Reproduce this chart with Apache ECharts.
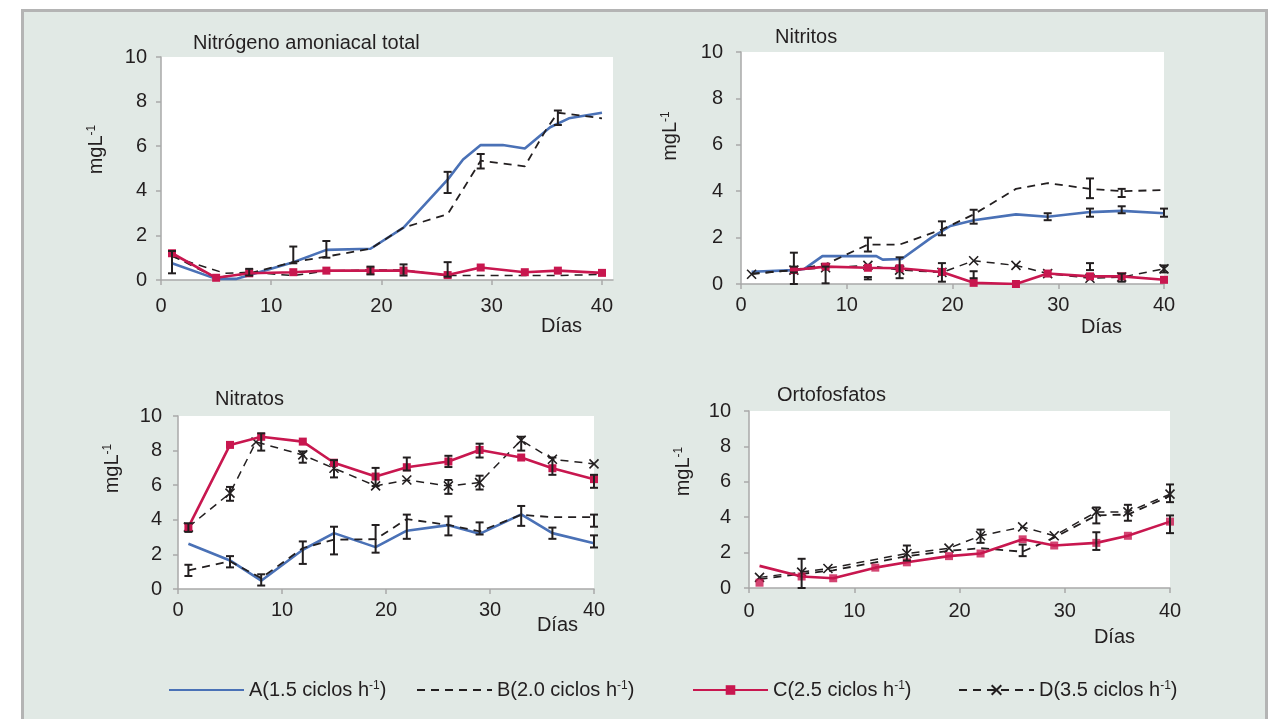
<!DOCTYPE html>
<html>
<head>
<meta charset="utf-8">
<script src="https://cdn.jsdelivr.net/npm/echarts@6/dist/echarts.min.js"></script>
<style>
  body { margin: 0; background: #fff; }
  #frame { position: absolute; left: 21px; top: 9px; width: 1241px; height: 720px;
           background: #e1e9e5; border: 3px solid #b4b4b4; border-bottom: none; }
  #main { position: absolute; left: 0; top: 0; width: 1279px; height: 719px; }
</style>
</head>
<body>
<div id="frame"></div>
<div id="main"></div>
<script>
// --- data: [day, mg/L] ---
const dayTicks = [0, 10, 20, 30, 40];
const panelTitles = ['Nitrógeno amoniacal total', 'Nitritos', 'Nitratos', 'Ortofosfatos'];
const seriesNames = ['A', 'B', 'C', 'D'];
const legendLabels = ['A(1.5 ciclos h', 'B(2.0 ciclos h', 'C(2.5 ciclos h', 'D(3.5 ciclos h'];

// Nitrógeno amoniacal total
const ntaA = [[1, 0.75], [5, 0.05], [6.8, 0.05], [12, 0.8], [15, 1.35], [19, 1.4], [22, 2.35], [26, 4.5], [27.4, 5.4], [29, 6.05], [31, 6.05], [33, 5.9], [35.3, 6.85], [37, 7.25], [40, 7.5]];
const ntaB = [[1, 1.1], [5, 0.1], [8, 0.3], [12, 0.8], [15, 1.05], [19, 1.4], [22, 2.35], [26, 2.95], [29, 5.35], [33, 5.1], [35, 6.8], [36, 7.5], [40, 7.25]];
const ntaC = [[1, 1.2], [5, 0.1], [8, 0.3], [12, 0.35], [15, 0.42], [19, 0.42], [22, 0.42], [26, 0.22], [29, 0.56], [33, 0.35], [36, 0.42], [40, 0.32]];
const ntaD = [[1, 1.05], [5.8, 0.3], [8, 0.35], [12, 0.2], [15, 0.4], [19, 0.45], [22, 0.45], [26, 0.2], [29, 0.2], [33, 0.2], [36, 0.2], [40, 0.25]];
const ntaErr = [[1, 0.3, 1.3], [8, 0.2, 0.5], [12, 0.75, 1.5], [15, 1.0, 1.75], [19, 0.25, 0.6], [22, 0.2, 0.7], [26, 0.15, 0.8], [26, 3.9, 4.85], [29, 5.0, 5.65], [36, 6.95, 7.6]];

// Nitritos
const niiA = [[1, 0.53], [5, 0.6], [6, 0.65], [7.7, 1.2], [12.8, 1.2], [13.4, 1.05], [15.2, 1.08], [18, 2.0], [19.8, 2.5], [22, 2.75], [26, 3.0], [29, 2.9], [33, 3.1], [36, 3.15], [40, 3.05]];
const niiB = [[1, 0.45], [5, 0.6], [8, 0.85], [12, 1.7], [15, 1.7], [19, 2.35], [22, 3.0], [26, 4.1], [29, 4.35], [33, 4.1], [36, 4.0], [40, 4.05]];
const niiC = [[5, 0.6], [8, 0.75], [12, 0.7], [15, 0.68], [19, 0.52], [22, 0.05], [26, 0.0], [29, 0.45], [33, 0.33], [36, 0.33], [40, 0.18]];
const niiD = [[1, 0.42], [5, 0.6], [8, 0.7], [12, 0.8], [15, 0.6], [19, 0.5], [22, 1.0], [26, 0.8], [29, 0.45], [33, 0.25], [36, 0.3], [40, 0.65]];
const niiErr = [[5, 0.75, 1.35], [5, 0, 0.5], [8, 0.03, 0.75], [12, 1.4, 2.0], [12, 0.2, 0.3], [15, 0.25, 1.15], [19, 2.1, 2.7], [19, 0.1, 0.9], [22, 2.6, 3.2], [22, 0.25, 0.55], [29, 2.75, 3.05], [33, 3.7, 4.55], [33, 2.9, 3.25], [33, 0.6, 0.9], [36, 3.75, 4.1], [36, 3.05, 3.35], [36, 0.1, 0.45], [40, 2.9, 3.25], [40, 0.5, 0.8]];

// Nitratos
const niaA = [[1, 2.62], [5, 1.65], [8, 0.48], [12, 2.27], [15, 3.23], [19, 2.42], [22, 3.37], [26, 3.69], [29, 3.19], [33, 4.31], [36, 3.23], [40, 2.65]];
const niaB = [[1, 1.08], [5, 1.6], [8, 0.63], [12, 2.37], [15, 2.85], [19, 2.88], [22, 4.04], [26, 3.7], [29, 3.33], [33, 4.29], [36, 4.15], [40, 4.15]];
const niaC = [[1, 3.58], [5, 8.33], [8, 8.8], [12, 8.52], [15, 7.3], [19, 6.5], [22, 7.04], [26, 7.37], [29, 8.04], [33, 7.6], [36, 6.98], [40, 6.35]];
const niaD = [[1, 3.58], [5, 5.54], [7.5, 8.5], [12, 7.75], [15, 6.98], [19, 5.96], [22, 6.3], [26, 5.96], [29, 6.15], [33, 8.6], [36, 7.5], [40, 7.23]];
const niaErr = [[1, 0.75, 1.4], [1, 3.3, 3.8], [5, 1.25, 1.9], [5, 5.1, 5.9], [8, 0.2, 0.85], [8, 8.0, 9.0], [12, 1.45, 2.75], [12, 7.3, 7.95], [15, 2.0, 3.6], [15, 6.45, 7.45], [19, 2.1, 3.7], [19, 5.95, 7.0], [22, 2.9, 4.3], [22, 6.85, 7.6], [26, 3.1, 4.2], [26, 7.05, 7.7], [26, 5.5, 6.3], [29, 3.15, 3.85], [29, 7.6, 8.4], [29, 5.75, 6.55], [33, 3.65, 4.8], [33, 8.0, 8.8], [36, 2.9, 3.55], [36, 6.6, 7.6], [40, 3.6, 4.3], [40, 2.4, 3.1], [40, 5.85, 6.6]];

// Ortofosfatos
const ortB = [[1, 0.5], [5, 0.8], [8, 1.0], [12, 1.45], [15, 1.8], [19, 2.1], [22, 2.25], [26, 2.05], [29, 2.85], [33, 4.1], [36, 4.15], [40, 5.2]];
const ortC = [[1, 1.25], [5, 0.65], [8, 0.55], [12, 1.15], [15, 1.45], [19, 1.8], [22, 1.95], [26, 2.75], [29, 2.4], [33, 2.55], [36, 2.95], [40, 3.75]];
const ortC0 = [[1, 0.3]];
const ortD = [[1, 0.6], [5, 0.9], [7.5, 1.1], [15, 1.95], [19, 2.25], [22, 2.95], [26, 3.45], [29, 2.95], [33, 4.3], [36, 4.3], [40, 5.3]];
const ortErr = [[5, 0, 1.65], [15, 1.55, 2.4], [22, 2.55, 3.3], [26, 1.8, 2.45], [33, 2.15, 3.15], [33, 3.65, 4.55], [36, 3.8, 4.7], [40, 4.85, 5.85], [40, 3.1, 4.1]];

// --- layout ---
const FONT = '"Liberation Sans", Arial, Helvetica, sans-serif';
const INK = '#231f20';
const AXIS = '#a9a9a9';
const RED = '#c8174f';
const sup = {
    t: { fontSize: 20, color: INK, fontFamily: FONT },
    s: { fontSize: 12, color: INK, fontFamily: FONT, padding: [0, 0, 8, 0] }
};

const panels = [
    { grid: { left: 161, top: 57, width: 452, height: 223 }, xMax: 41, title: [193, 33], xMargin: 16, yMargin: 14, nameGap: 55, namePad: 38, diasGap: -31, diasTop: 36 },
    { grid: { left: 741, top: 52, width: 423, height: 232 }, xMax: 40, title: [775, 27], xMargin: 11, yMargin: 18, nameGap: 61, namePad: 64, diasGap: -42, diasTop: 33 },
    { grid: { left: 178, top: 416, width: 416, height: 173 }, xMax: 40, title: [215, 389], xMargin: 11, yMargin: 16, nameGap: 56, namePad: 68, diasGap: -16, diasTop: 26 },
    { grid: { left: 749, top: 411, width: 421, height: 177 }, xMax: 40, title: [777, 385], xMargin: 13, yMargin: 18, nameGap: 56, namePad: 56, diasGap: -35, diasTop: 39 }
];

const xPath = 'path://M0,0L10,10M10,0L0,10';
const styles = {
    A: { line: { color: '#4a71b6', width: 2.6 }, symbol: 'none', z: 2 },
    B: { line: { color: INK, width: 1.8, type: [8, 6] }, symbol: 'none', z: 3 },
    C: { line: { color: RED, width: 2.6 }, symbol: 'rect', size: 8, item: { color: RED }, z: 4 },
    D: { line: { color: INK, width: 1.5, type: [8, 6] }, symbol: xPath, size: 9, item: { color: INK, borderColor: INK, borderWidth: 1.6 }, z: 3 }
};

function makeLine(name, data, g, noSymbol) {
    const s = styles[name];
    return {
        name: name, type: 'line', xAxisIndex: g, yAxisIndex: g, data: data,
        symbol: noSymbol ? 'none' : s.symbol, symbolSize: s.size,
        itemStyle: s.item || { color: s.line.color }, lineStyle: s.line,
        z: s.z, silent: true
    };
}

function makeMarks(data, g) {
    return {
        name: 'C', type: 'scatter', xAxisIndex: g, yAxisIndex: g, data: data,
        symbol: 'rect', symbolSize: 8, itemStyle: { color: RED }, z: 4, silent: true
    };
}

function renderErr(params, api) {
    const x = api.value(0);
    const lo = api.coord([x, api.value(1)]);
    const hi = api.coord([x, api.value(2)]);
    const w = 4;
    const style = { stroke: INK, lineWidth: 2 };
    return {
        type: 'group',
        children: [
            { type: 'line', shape: { x1: lo[0], y1: lo[1], x2: hi[0], y2: hi[1] }, style: style },
            { type: 'line', shape: { x1: lo[0] - w, y1: lo[1], x2: lo[0] + w, y2: lo[1] }, style: style },
            { type: 'line', shape: { x1: hi[0] - w, y1: hi[1], x2: hi[0] + w, y2: hi[1] }, style: style }
        ]
    };
}

function makeErr(data, g) {
    return {
        type: 'custom', xAxisIndex: g, yAxisIndex: g, data: data,
        encode: { x: 0, y: [1, 2] }, renderItem: renderErr, z: 6, silent: true
    };
}

// panel 1 goes last so the legend picks up the D style with markers
const series = [
    makeLine('A', niiA, 1), makeLine('B', niiB, 1), makeLine('C', niiC, 1), makeLine('D', niiD, 1), makeErr(niiErr, 1),
    makeLine('A', niaA, 2), makeLine('B', niaB, 2), makeLine('D', niaD, 2), makeLine('C', niaC, 2), makeErr(niaErr, 2),
    makeLine('B', ortB, 3), makeLine('D', ortD, 3), makeLine('C', ortC, 3, true), makeMarks(ortC.slice(1).concat(ortC0), 3), makeErr(ortErr, 3),
    makeLine('A', ntaA, 0), makeLine('B', ntaB, 0), makeLine('D', ntaD, 0, true), makeLine('C', ntaC, 0), makeErr(ntaErr, 0)
];

const chart = echarts.init(document.getElementById('main'));
const legendLeft = [168, 416, 692, 958];
const hideMark = { opacity: 0 };

const option = {
    animation: false,
    backgroundColor: 'transparent',
    textStyle: { fontFamily: FONT },
    title: panels.map((p, i) => ({
        text: panelTitles[i], left: p.title[0], top: p.title[1], padding: 0,
        textStyle: { fontSize: 20, fontWeight: 'normal', color: INK, fontFamily: FONT }
    })),
    legend: seriesNames.map((n, i) => ({
        data: [styles[n].symbol === 'none' ? { name: n, itemStyle: hideMark } : n],
        left: legendLeft[i], top: 680, padding: 0,
        itemWidth: 75, itemHeight: 12, selectedMode: false,
        formatter: () => '{t|' + legendLabels[i] + '}{s|-1}{t|)}',
        textStyle: { fontSize: 20, color: INK, fontFamily: FONT, rich: sup }
    })),
    grid: panels.map(p => Object.assign({ show: true, backgroundColor: '#fff', borderWidth: 0 }, p.grid)),
    xAxis: panels.map((p, i) => ({
        type: 'value', gridIndex: i, min: 0, max: p.xMax, interval: 10,
        name: 'Días', nameLocation: 'end', nameGap: p.diasGap,
        nameTextStyle: { fontSize: 20, color: INK, fontFamily: FONT, align: 'right', verticalAlign: 'top', padding: [p.diasTop, 0, 0, 0] },
        axisLine: { show: true, onZero: false, lineStyle: { color: AXIS, width: 1.5 } },
        axisTick: { show: true, length: 5, lineStyle: { color: AXIS, width: 1.5 }, customValues: dayTicks },
        axisLabel: { fontSize: 20, color: INK, fontFamily: FONT, margin: p.xMargin, customValues: dayTicks },
        splitLine: { show: false }
    })),
    yAxis: panels.map((p, i) => ({
        type: 'value', gridIndex: i, min: 0, max: 10, interval: 2,
        name: '{t|mgL}{s|-1}', nameLocation: 'middle', nameRotate: 90, nameGap: p.nameGap, nameMoveOverlap: false,
        nameTextStyle: { fontSize: 20, color: INK, fontFamily: FONT, rich: sup, padding: [0, 0, 0, p.namePad] },
        axisLine: { show: true, lineStyle: { color: AXIS, width: 1.5 } },
        axisTick: { show: true, length: 5, lineStyle: { color: AXIS, width: 1.5 } },
        axisLabel: { fontSize: 20, color: INK, fontFamily: FONT, margin: p.yMargin },
        splitLine: { show: false }
    })),
    series: series
};

chart.setOption(option);
window.addEventListener('resize', function () {
    chart.resize();
});
</script>
</body>
</html>
